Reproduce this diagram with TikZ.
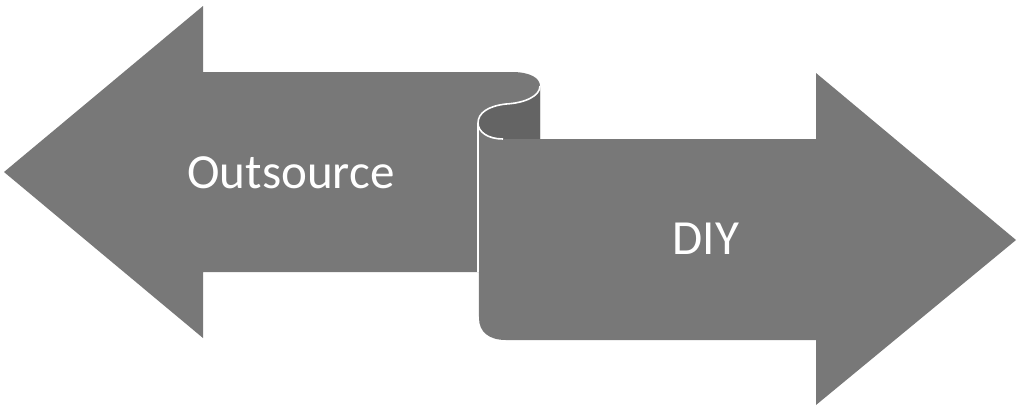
\documentclass[tikz,border=0pt]{standalone}
\usepackage{fontspec}
\setmainfont{Carlito}
\definecolor{ribbon}{RGB}{120,120,120}
\definecolor{ribbondark}{RGB}{100,100,100}
\begin{document}
\begin{tikzpicture}[x=0.75pt, y=-0.75pt, line join=round,
	label/.style={text=white, font=\fontsize{36.8}{40}\selectfont, inner sep=0pt},
	edge/.style={white, line width=1.2pt}]
	
	% Khung hình (đơn vị pixel)
	\useasboundingbox (0,0) rectangle (1020,412);
	
	% Các điểm chính của dải cuộn
	\coordinate (T) at (540,86);   % mép phải chỗ cuộn trên
	\coordinate (M) at (506,104);  % giữa đường chữ S
	\coordinate (L) at (478,123);  % điểm trái nhất chỗ cuộn
	\coordinate (F) at (503,139);  % chân chỗ cuộn
	\coordinate (E) at (478,272);  % mép trái thân mũi tên phải
	
	% Mũi tên trái
	\fill[ribbon] (4,172) -- (203,6) -- (203,72) -- (512,72)
		.. controls (530,72) and (540,78) .. (T) -- (540,272)
		-- (203,272) -- (203,338) -- cycle;
	
	% Mặt sau của dải (phần tối)
	\fill[ribbondark] (T) .. controls (540,96) and (525,103) .. (M)
		.. controls (488,106) and (478,113) .. (L)
		.. controls (478,132) and (488,139) .. (F) -- (540,139) -- cycle;
	
	% Mũi tên phải
	\fill[ribbon] (L) .. controls (478,132) and (488,139) .. (F)
		-- (816,139) -- (816,73) -- (1016,240) -- (816,405) -- (816,340)
		-- (506,340) .. controls (489,340) and (479,332) .. (479,318) -- cycle;
	
	% Đường viền trắng của chỗ cuộn
	\draw[edge] (T) .. controls (540,96) and (525,103) .. (M)
		.. controls (488,106) and (478,113) .. (L)
		.. controls (478,132) and (488,139) .. (F);
	\draw[edge] (L) -- (E);
	
	% Nhãn
	\node[label] (out) at (291,173) {Outsource};
	\node[label] (diy) at (706,239) {DIY};
	
\end{tikzpicture}
\end{document}
